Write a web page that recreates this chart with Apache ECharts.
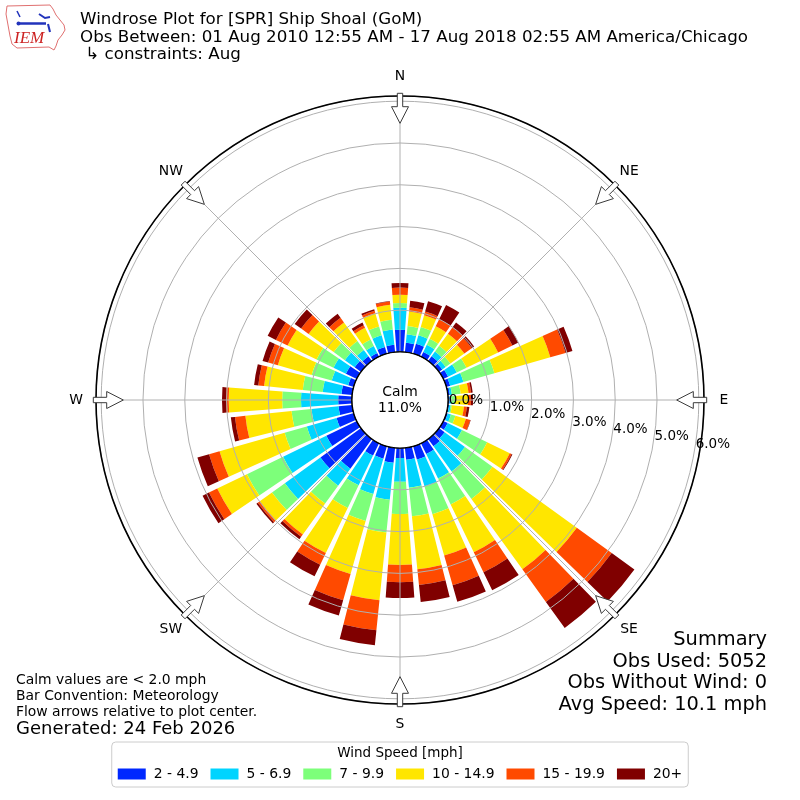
<!DOCTYPE html>
<html>
<head>
<meta charset="utf-8">
<script src="https://cdn.jsdelivr.net/npm/echarts@6/dist/echarts.min.js"></script>
<style>
html,body{margin:0;padding:0;background:#ffffff;}
#chart{width:800px;height:800px;}
</style>
</head>
<body>
<div id="chart"></div>
<script>
// ---------------- data ----------------
const directions = ['0','10','20','30','40','50','60','70','80','90','100','110','120','130','140','150','160','170',
                    '180','190','200','210','220','230','240','250','260','270','280','290','300','310','320','330','340','350'];
const speedBins = ['2 - 4.9','5 - 6.9','7 - 9.9','10 - 14.9','15 - 19.9','20+'];
const binColors = ['#0028ff','#00d4ff','#7dff7a','#ffe600','#ff4a00','#800000'];

// percent of observations per direction (meteorological, every 10 deg from N)
const pct2to5   = [0.53,0.23,0.25,0.13,0.14,0.10,0.13,0.10,0.05,0.04,0.03,0.04,0.12,0.17,0.22,0.29,0.33,0.29,
                   0.24,0.36,0.31,0.33,0.88,1.20,0.81,0.43,0.33,0.33,0.26,0.14,0.29,0.19,0.14,0.10,0.17,0.18];
const pct5to7   = [0.53,0.20,0.21,0.19,0.14,0.10,0.23,0.33,0.05,0.04,0.04,0.08,0.38,0.60,0.74,0.65,0.67,0.67,
                   0.57,0.89,0.88,0.79,0.50,1.05,1.15,0.74,0.65,0.89,0.45,0.41,0.33,0.29,0.19,0.19,0.29,0.37];
const pct7to10  = [0.11,0.20,0.21,0.16,0.17,0.14,0.26,0.77,0.21,0.09,0.03,0.11,0.67,0.81,0.81,0.69,0.69,0.69,
                   0.77,0.79,0.67,0.60,0.53,0.38,0.96,0.55,0.48,0.45,0.48,0.50,0.45,0.33,0.26,0.17,0.22,0.23];
const pct10to15 = [0.20,0.35,0.29,0.33,0.36,0.41,0.84,1.39,0.19,0.31,0.29,0.26,0.60,2.49,2.08,1.27,1.03,1.27,
                   1.22,1.63,1.32,1.20,0.91,0.36,0.79,1.62,1.11,1.28,0.93,0.84,0.77,0.74,0.55,0.31,0.33,0.36];
const pct15to20 = [0.17,0.10,0.09,0.19,0.19,0.22,0.38,0.38,0.06,0.07,0.07,0.11,0.05,1.03,0.96,0.53,0.74,0.38,
                   0.41,0.72,0.65,0.31,0.07,0.06,0.22,0.26,0.25,0.06,0.14,0.24,0.31,0.22,0.14,0.07,0.06,0.08];
const pct20plus = [0.11,0.16,0.26,0.38,0.14,0.07,0.16,0.17,0.04,0.05,0.06,0.01,0.02,0.67,0.77,0.48,0.41,0.41,
                   0.38,0.36,0.38,0.31,0.07,0.04,0.17,0.29,0.10,0.10,0.10,0.14,0.22,0.19,0.12,0.07,0.04,0.01];
const seriesValues = [pct2to5, pct5to7, pct7to10, pct10to15, pct15to20, pct20plus];

const calmPct = 11.0;
const radiusMax = 6.124;               // outer edge of the plot in percent
const compassAngles = [0,45,90,135,180,225,270,315];
const compassNames  = ['N','NE','E','SE','S','SW','W','NW'];

const titleLines = ['Windrose Plot for [SPR] Ship Shoal (GoM)',
                    'Obs Between: 01 Aug 2010 12:55 AM - 17 Aug 2018 02:55 AM America/Chicago',
                    ' \u21b3 constraints: Aug'];
const noteLines = ['Calm values are < 2.0 mph','Bar Convention: Meteorology','Flow arrows relative to plot center.'];
const generatedText = 'Generated: 24 Feb 2026';
const summaryLines = ['Summary','Obs Used: 5052','Obs Without Wind: 0','Avg Speed: 10.1 mph'];
const legendTitle = 'Wind Speed [mph]';

// ---------------- chart ----------------
const FONT = "'DejaVu Sans', sans-serif";
const chart = echarts.init(document.getElementById('chart'), null, {renderer:'canvas'});

const polarRadius = [48, 304];

function arrowItem(params, api){
  const cs = params.coordSys;
  const a = api.value(1) * Math.PI / 180;
  const R = cs.r;
  const sa = Math.sin(a), ca = Math.cos(a);
  const pt = (rad, off) => [cs.cx + rad*sa + off*ca, cs.cy - rad*ca + off*sa];
  const outer = R + 2.7, junc = R - 10.7, tip = R - 27.3;
  const lp = pt(R + 20, 0);
  return {
    type:'group',
    children:[
      {type:'polygon',
       shape:{points:[pt(outer,-2.7),pt(junc,-2.7),pt(junc,-8.5),pt(tip,0),pt(junc,8.5),pt(junc,2.7),pt(outer,2.7)]},
       style:{fill:'#ffffff', stroke:'#3a3a3a', lineWidth:1}},
      {type:'text', x:lp[0], y:lp[1],
       style:{text:compassNames[params.dataIndex], font:'13.9px ' + FONT, fill:'#000', align:'center', verticalAlign:'middle'}}
    ]
  };
}

const barSeries = speedBins.map((name, i) => ({
  type:'bar', name:name, coordinateSystem:'polar', polarIndex:0, stack:'wind',
  data: seriesValues[i], barWidth:'83%',
  itemStyle:{color: binColors[i]}, silent:true, z:2
}));

const graphics = [];
titleLines.forEach((t, i) => graphics.push({type:'text', x:80, y:20 + i*17.5, z:100,
  style:{text:t, font:'16.7px ' + FONT, fill:'#000', align:'left', verticalAlign:'middle'}}));
noteLines.forEach((t, i) => graphics.push({type:'text', x:16, y:680 + i*16.4, z:100,
  style:{text:t, font:'13.9px ' + FONT, fill:'#000', align:'left', verticalAlign:'middle'}}));
graphics.push({type:'text', x:16, y:729.5, z:100,
  style:{text:generatedText, font:'18px ' + FONT, fill:'#000', align:'left', verticalAlign:'middle'}});
summaryLines.forEach((t, i) => graphics.push({type:'text', x:767, y:640 + i*21.7, z:100,
  style:{text:t, font:'19.4px ' + FONT, fill:'#000', align:'right', verticalAlign:'middle'}}));
graphics.push({type:'text', x:400, y:753, z:100,
  style:{text:legendTitle, font:'13.5px ' + FONT, fill:'#000', align:'center', verticalAlign:'middle'}});
// IEM logo (approximation)
graphics.push({type:'polygon', z:100, shape:{points:[[7,6],[50,5],[53,9],[56,15],[60,20],[64,25],[65,30],[62,35],[58,40],[56,46],[54,50],[49,47],[17,48],[12,44],[10,36],[8,25],[6,14]]},
  style:{fill:'none', stroke:'#e07070', lineWidth:1}});
graphics.push({type:'polyline', z:100, shape:{points:[[17,11],[20,17]]}, style:{stroke:'#2233bb', lineWidth:1.5, fill:null}});
graphics.push({type:'circle', z:100, shape:{cx:18.5, cy:23.5, r:2}, style:{fill:'#2233bb'}});
graphics.push({type:'polyline', z:100, shape:{points:[[19,23.5],[46,23.5]]}, style:{stroke:'#2233bb', lineWidth:2.5, fill:null}});
graphics.push({type:'polyline', z:100, shape:{points:[[39,14],[45,18],[50,17]]}, style:{stroke:'#2233bb', lineWidth:2, fill:null}});
graphics.push({type:'polyline', z:100, shape:{points:[[48,24],[50,32]]}, style:{stroke:'#2233bb', lineWidth:2, fill:null}});
graphics.push({type:'text', x:14, y:39, z:100,
  style:{text:'IEM', font:'italic 17px "Liberation Serif", "DejaVu Serif", serif', fill:'#cc2222', align:'left', verticalAlign:'middle'}});

const option = {
  animation:false,
  backgroundColor:'#ffffff',
  textStyle:{fontFamily:FONT},
  polar:[
    {center:['50%','50%'], radius:polarRadius},
    {center:['50%','50%'], radius:polarRadius},
    {center:['50%','50%'], radius:polarRadius}
  ],
  angleAxis:[
    {polarIndex:0, type:'category', data:directions, startAngle:95, clockwise:true, boundaryGap:true,
     axisLine:{show:false}, axisTick:{show:false}, axisLabel:{show:false}, splitLine:{show:false}},
    {polarIndex:1, type:'value', min:0, max:360, interval:45, startAngle:90, clockwise:true, z:4,
     axisLine:{show:true, lineStyle:{color:'#000', width:1.6}},
     axisTick:{show:false}, axisLabel:{show:false},
     splitLine:{show:true, lineStyle:{color:'#b0b0b0', width:1}}},
    {polarIndex:2, type:'value', min:0, max:360, startAngle:-10, show:false,
     axisLine:{show:false}, axisTick:{show:false}, axisLabel:{show:false}, splitLine:{show:false}}
  ],
  radiusAxis:[
    {polarIndex:0, type:'value', min:0, max:radiusMax, show:false,
     axisLine:{show:false}, axisTick:{show:false}, axisLabel:{show:false}, splitLine:{show:false}},
    {polarIndex:1, type:'value', min:0, max:radiusMax, interval:1, z:3,
     axisLine:{show:false}, axisTick:{show:false}, axisLabel:{show:false},
     splitLine:{show:true, lineStyle:{color:'#b0b0b0', width:1}}},
    {polarIndex:2, type:'value', min:0, max:radiusMax, interval:1, z:6,
     axisLine:{show:false}, axisTick:{show:false}, splitLine:{show:false},
     axisLabel:{show:true, margin:8, align:'left', verticalAlign:'middle', fontSize:13.5, color:'#000', fontFamily:FONT,
       showMaxLabel:false,
       formatter:function(v){ return Math.abs(v - Math.round(v)) < 1e-6 ? v.toFixed(1) + '%' : ''; }}}
  ],
  legend:{
    data:speedBins, top:742, left:'center', orient:'horizontal',
    icon:'rect', itemWidth:28, itemHeight:11, itemGap:12,
    textStyle:{fontSize:13.9, color:'#000', fontFamily:FONT, padding:[0,0,0,3]},
    borderColor:'#cccccc', borderWidth:1, borderRadius:4, backgroundColor:'#ffffff',
    padding:[25,6,6,6], selectedMode:false
  },
  graphic:{elements:graphics},
  series: barSeries.concat([
    {type:'custom', coordinateSystem:'polar', polarIndex:1, z:5, silent:true,
     encode:{radius:0, angle:1},
     data: compassAngles.map(a => [radiusMax, a]),
     renderItem: arrowItem},
    {type:'pie', center:['50%','50%'], radius:[0, polarRadius[0]], z:6, silent:true,
     startAngle:90, clockwise:true,
     data:[{value:calmPct, name:'Calm'}],
     itemStyle:{color:'#ffffff', borderColor:'#000000', borderWidth:1.2},
     label:{show:true, position:'center', formatter:function(){ return 'Calm\n' + calmPct.toFixed(1) + '%'; },
            fontSize:13.9, lineHeight:16, color:'#000', fontFamily:FONT},
     labelLine:{show:false}, emphasis:{disabled:true}}
  ])
};
chart.setOption(option);
</script>
</body>
</html>
